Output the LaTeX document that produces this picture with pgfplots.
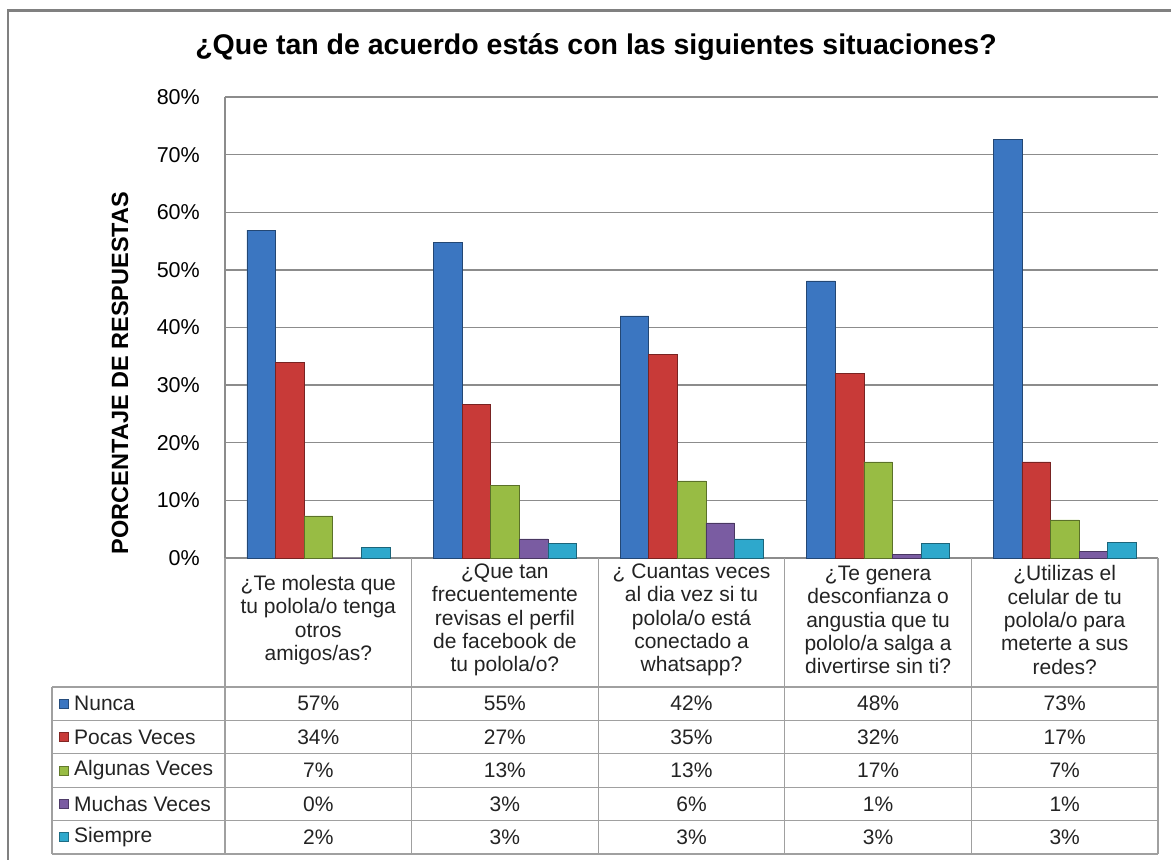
\documentclass[border=0pt]{standalone}
\usepackage{fontspec}
\setmainfont{Liberation Sans}
\usepackage{pgfplots}
\pgfplotsset{compat=1.18}

\definecolor{cNunca}{RGB}{59,118,193}
\definecolor{cPocas}{RGB}{200,58,56}
\definecolor{cAlgunas}{RGB}{152,188,68}
\definecolor{cMuchas}{RGB}{122,92,162}
\definecolor{cSiempre}{RGB}{46,168,204}
\definecolor{gridc}{RGB}{140,140,140}
\definecolor{tablec}{RGB}{160,160,160}
\definecolor{txt}{RGB}{35,35,35}

\newcommand{\tabfont}{\fontsize{21}{23.3}\selectfont}
\pgfplotsset{bev/.style={fill=#1, draw=#1!60!black}}

\begin{document}
\begin{tikzpicture}[x=1pt,y=1pt]
\useasboundingbox (0,0) rectangle (1171,860);
% chart frame
\draw[gray, line width=2.2pt] (8,0) -- (8,849.5) -- (1171,849.5);

\node[font=\fontsize{28.5}{32}\selectfont\bfseries] at (596,813)
  {¿Que tan de acuerdo estás con las siguientes situaciones?};
\node[rotate=90, font=\fontsize{23.5}{26}\selectfont\bfseries] at (120,487)
  {PORCENTAJE DE RESPUESTAS};

\begin{axis}[
  at={(225pt,302pt)}, anchor=south west, scale only axis,
  width=933pt, height=461pt,
  xmin=-0.5, xmax=4.5, ymin=0, ymax=80,
  ybar=0pt, bar width=28.6pt,
  axis x line*=bottom, axis y line*=left,
  axis line style={gridc, line width=1.3pt},
  xtick=\empty,
  ytick={0,10,...,80},
  yticklabels={0\%,10\%,20\%,30\%,40\%,50\%,60\%,70\%,80\%},
  ymajorgrids, grid style={gridc, line width=1.3pt},
  major tick length=0pt,
  yticklabel style={font=\fontsize{21.5}{24}\selectfont, inner sep=0pt, xshift=-25pt},
  clip=false,
]
\addplot[bev=cNunca] coordinates {(0,56.9) (1,54.8) (2,42.0) (3,48.1) (4,72.7)};
\addplot[bev=cPocas] coordinates {(0,34.0) (1,26.7) (2,35.4) (3,32.1) (4,16.7)};
\addplot[bev=cAlgunas] coordinates {(0,7.3) (1,12.6) (2,13.4) (3,16.7) (4,6.6)};
\addplot[bev=cMuchas] coordinates {(0,0) (1,3.3) (2,6.1) (3,0.6) (4,1.2)};
\addplot[bev=cSiempre] coordinates {(0,1.8) (1,2.6) (2,3.3) (3,2.6) (4,2.7)};
\end{axis}

% data table grid
\foreach \xx in {225,411.6,598.2,784.8,971.4,1158}
  \draw[tablec, line width=1.3pt] (\xx,302) -- (\xx,6);
\draw[tablec, line width=1.3pt] (52,173) -- (52,6);
\foreach \yy in {173,139.6,106.2,72.8,39.4,6}
  \draw[tablec, line width=1.3pt] (52,\yy) -- (1158,\yy);

% category labels
\begin{scope}[every node/.style={align=center, font=\tabfont, text=txt, inner sep=0pt}]
\node at (318.3,240) {¿Te molesta que\\tu polola/o tenga\\otros\\amigos/as?};
\node at (504.9,240) {¿Que tan\\frecuentemente\\revisas el perfil\\de facebook de\\tu polola/o?};
\node at (691.5,240) {¿ Cuantas veces\\al dia vez si tu\\polola/o está\\conectado a\\whatsapp?};
\node at (878.1,240) {¿Te genera\\desconfianza o\\angustia que tu\\pololo/a  salga a\\divertirse sin ti?};
\node at (1064.7,240) {¿Utilizas el\\celular de tu\\polola/o para\\meterte a sus\\redes?};
\end{scope}

% row headers with keys
\begin{scope}[every node/.style={font=\tabfont, text=txt, inner sep=0pt}]
\foreach \yc/\cc/\lab in {156.3/cNunca/Nunca, 122.9/cPocas/Pocas Veces,
    89.5/cAlgunas/Algunas Veces, 56.1/cMuchas/Muchas Veces, 22.7/cSiempre/Siempre}{
  \fill[\cc, draw=\cc!65!black, line width=0.6pt] (59,\yc-4.5) rectangle (68,\yc+4.5);
  \node[anchor=west] at (74,\yc) {\lab};
}
% values
\foreach \yc/\va/\vb/\vc/\vd/\ve in {156.3/57/55/42/48/73, 122.9/34/27/35/32/17,
    89.5/7/13/13/17/7, 56.1/0/3/6/1/1, 22.7/2/3/3/3/3}{
  \node at (318.3,\yc) {\va\%};
  \node at (504.9,\yc) {\vb\%};
  \node at (691.5,\yc) {\vc\%};
  \node at (878.1,\yc) {\vd\%};
  \node at (1064.7,\yc) {\ve\%};
}
\end{scope}
\end{tikzpicture}
\end{document}
